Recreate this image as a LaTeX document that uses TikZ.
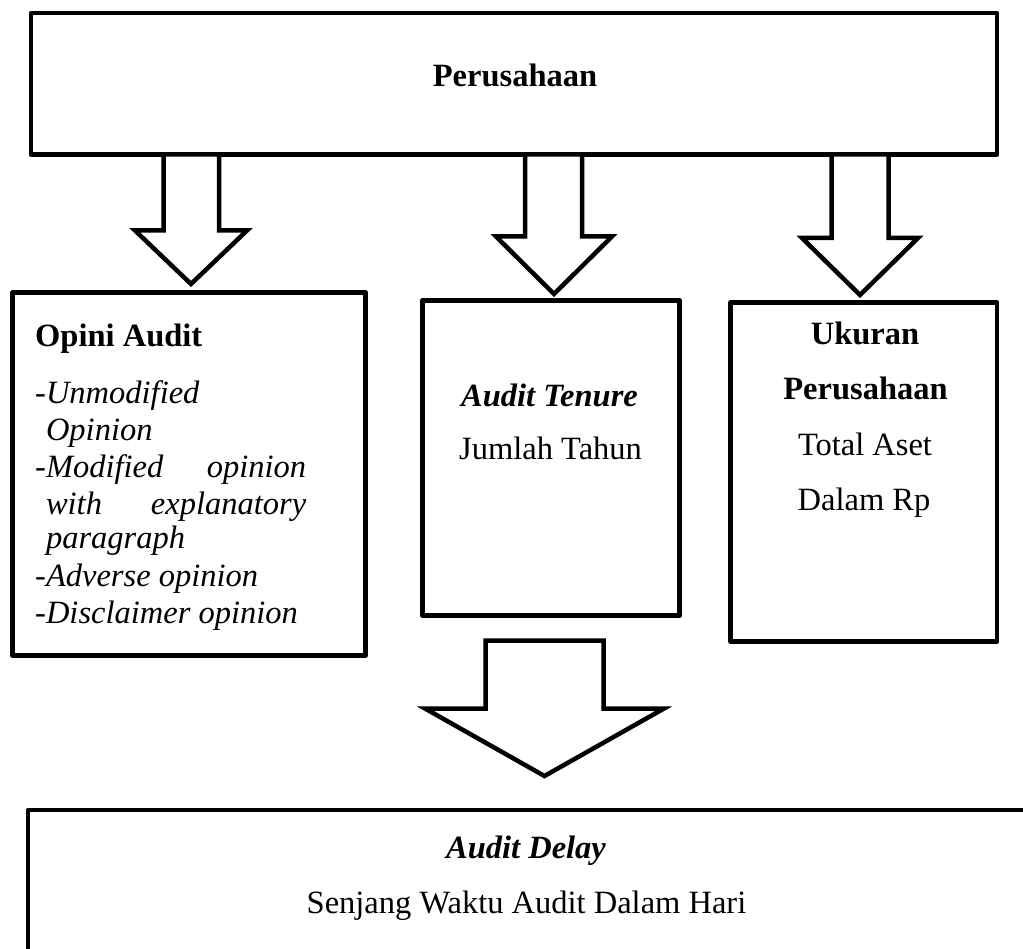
\documentclass[tikz,border=0pt]{standalone}
\usepackage{fontspec}
\setmainfont{Liberation Serif}
\begin{document}
\begin{tikzpicture}[x=1pt,y=-1pt,
  box/.style={draw=black,line width=4.5pt,line join=round,fill=white,inner sep=0pt,outer sep=0pt},
  barrow/.style={draw=black,line width=4.5pt,line join=miter,fill=white},
  txt/.style={anchor=base,inner sep=0pt,font=\fontsize{32.5}{37}\selectfont},
  btxt/.style={txt,font=\bfseries\fontsize{32.5}{37}\selectfont},
  bitxt/.style={txt,font=\bfseries\itshape\fontsize{32.5}{37}\selectfont},
  itl/.style={anchor=base west,inner sep=0pt,font=\fontsize{32.5}{37}\selectfont}]
\useasboundingbox (0,0) rectangle (1023,949);
\begin{scope}
\clip (0,0) rectangle (1023,949);
% boxes
\node[box,minimum width=966pt,minimum height=141.5pt] (top) at (514,83.75) {};
\node[box,minimum width=353pt,minimum height=363pt] (opini) at (189,474) {};
\node[box,minimum width=257pt,minimum height=315pt] (tenure) at (551,458) {};
\node[box,minimum width=266.5pt,minimum height=339pt] (ukuran) at (863.75,472) {};
\node[box,minimum width=998pt,minimum height=170pt] (delay) at (527,895) {};
% block arrows
\draw[barrow] (top.south -| 163.5,0) -- (163.5,230.5) -- (135,230.5) -- (191,284)
  -- (247,230.5) -- (219,230.5) -- (top.south -| 219,0) -- cycle;
\draw[barrow] (top.south -| 525,0) -- (525,236.5) -- (496,236.5) -- (554,294)
  -- (612,236.5) -- (582,236.5) -- (top.south -| 582,0) -- cycle;
\draw[barrow] (top.south -| 831.5,0) -- (831.5,238) -- (802,238) -- (860,295)
  -- (918,238) -- (888.5,238) -- (top.south -| 888.5,0) -- cycle;
\draw[barrow] (485.5,640.5) -- (485.5,708.5) -- (425,708.5) -- (544.5,776)
  -- (664,708.5) -- (603.5,708.5) -- (603.5,640.5) -- cycle;
\end{scope}
% texts
\node[btxt] (tperus) at (515,87) {Perusahaan};
\node[anchor=base west,inner sep=0pt,font=\bfseries\fontsize{32.5}{37}\selectfont] (topini) at (35,347) {Opini Audit};
\node[itl] (l1) at (35,403.3) {-\textit{Unmodified}};
\node[itl] (l2) at (35,440) {\hphantom{-}\textit{Opinion}};
\node[itl] (l3) at (35,477) {\hbox to 271pt{-\textit{Modified}\hfill\textit{opinion}}};
\node[itl] (l4) at (35,514) {\hbox to 271pt{\hphantom{-}\textit{with}\hfill\textit{explanatory}}};
\node[itl] (l5) at (35,548) {\hphantom{-}\textit{paragraph}};
\node[itl] (l6) at (35,586) {-\textit{Adverse opinion}};
\node[itl] (l7) at (35,623) {-\textit{Disclaimer opinion}};
\node[bitxt] (ttenure) at (549.5,407) {Audit Tenure};
\node[txt] (tjumlah) at (550.5,460) {Jumlah Tahun};
\node[btxt] (tuk1) at (865,345) {Ukuran};
\node[btxt] (tuk2) at (865.5,400) {Perusahaan};
\node[txt] (ttotal) at (865,456) {Total Aset};
\node[txt] (tdalam) at (864,510) {Dalam Rp};
\node[bitxt] (tdelay) at (526,858) {Audit Delay};
\node[txt] (tsenjang) at (526.5,913) {Senjang Waktu Audit Dalam Hari};
\end{tikzpicture}
\end{document}
